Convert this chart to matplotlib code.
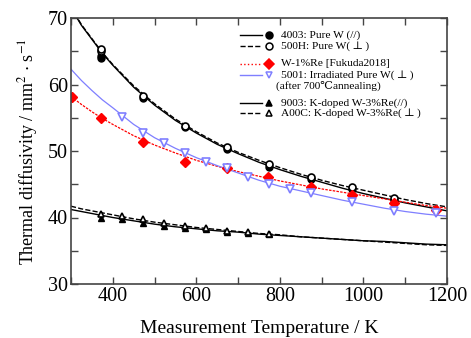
import numpy as np
import matplotlib.pyplot as plt
from matplotlib.ticker import MultipleLocator

plt.rcParams['font.family'] = ['Liberation Serif', 'DejaVu Serif']
plt.rcParams['mathtext.fontset'] = 'stix'

# measured points
T_w = [373, 373, 472, 573, 673, 774, 874, 973, 1073]
w_par = [64.0, 64.3, 58.0, 53.6, 50.3, 47.6, 45.8, 44.3, 42.6]
w_perp = [65.0, 65.4, 58.3, 53.8, 50.6, 48.0, 46.1, 44.6, 43.0]

T_re = [302, 372, 472, 573, 673, 772, 874, 973, 1073, 1173]
re1 = [58.1, 54.9, 51.3, 48.3, 47.4, 46.1, 44.6, 43.4, 42.2, 41.1]

T_irr = [423, 472, 523, 573, 623, 673, 724, 774, 824, 874, 973, 1073, 1173]
irr = [55.1, 52.7, 51.2, 49.7, 48.4, 47.4, 46.1, 45.0, 44.3, 43.7, 42.3, 41.0, 40.7]

T_k = [373, 423, 472, 523, 573, 623, 673, 724, 774]
k_par = [39.9, 39.8, 39.2, 38.7, 38.4, 38.3, 37.8, 37.7, 37.5]
k_perp = [40.6, 40.3, 39.7, 39.1, 38.7, 38.4, 38.0, 37.8, 37.5]

# fitted curves
T_fit = [300, 325, 350, 375, 400, 450, 500, 550, 600, 650, 700, 750, 800, 850,
         900, 950, 1000, 1050, 1100, 1150, 1200]
fit_w_par = [71.5, 68.9, 66.8, 64.7, 62.9, 59.6, 56.9, 54.6, 52.7, 51.0, 49.6,
             48.3, 47.2, 46.2, 45.3, 44.4, 43.6, 42.9, 42.2, 41.6, 41.0]
fit_w_perp = [71.6, 69.0, 66.9, 64.8, 63.0, 59.8, 57.1, 54.8, 52.9, 51.2, 49.8,
              48.6, 47.5, 46.5, 45.6, 44.8, 44.1, 43.4, 42.7, 42.1, 41.6]
fit_re = [58.2, 57.0, 55.9, 54.9, 54.0, 52.3, 50.9, 49.7, 48.6, 47.7, 46.9,
          46.2, 45.5, 44.9, 44.3, 43.8, 43.3, 42.8, 42.3, 41.8, 41.4]
fit_irr = [62.3, 60.6, 59.1, 57.7, 56.5, 54.0, 52.0, 50.4, 49.0, 47.8, 46.7,
           45.6, 44.7, 44.0, 43.3, 42.6, 42.0, 41.4, 40.9, 40.5, 40.2]
fit_k_par = [41.2, 40.9, 40.6, 40.3, 40.0, 39.5, 39.0, 38.6, 38.3, 38.0, 37.8,
             37.5, 37.3, 37.1, 36.9, 36.7, 36.5, 36.4, 36.2, 36.0, 35.9]
fit_k_perp = [41.7, 41.3, 41.0, 40.7, 40.4, 39.8, 39.3, 38.9, 38.5, 38.2, 37.9,
              37.6, 37.4, 37.1, 36.9, 36.7, 36.5, 36.3, 36.1, 35.9, 35.8]

red = '#ff0000'
blue = '#7f7fff'

fig = plt.figure(figsize=(4.71, 3.38), dpi=100)
ax = fig.add_axes([71/471, 1 - 284/338, 376/471, 266/338])

ax.plot(T_fit, fit_w_par, '-', color='k', lw=1.0)
ax.plot(T_fit, fit_w_perp, '--', color='k', lw=1.0)
ax.plot(T_fit, fit_re, '--', color=red, lw=0.9, dashes=(2, 1))
ax.plot(T_fit, fit_irr, '-', color=blue, lw=0.9)
ax.plot(T_fit, fit_k_par, '-', color='k', lw=1.0)
ax.plot(T_fit, fit_k_perp, '--', color='k', lw=1.0)

ms = 5
ax.plot(T_w, w_par, 'o', color='k', ms=ms)
ax.plot(T_w, w_perp, 'o', mfc='white', mec='k', mew=1.2, ms=ms)
ax.plot(T_re, re1, 'D', color=red, ms=ms)
ax.plot(T_irr, irr, 'v', mfc='white', mec=blue, mew=1.2, ms=ms + 1)
ax.plot(T_k, k_par, '^', color='k', ms=ms)
ax.plot(T_k, k_perp, '^', mfc='white', mec='k', mew=1.2, ms=ms)

ax.set_xlim(300, 1200)
ax.set_ylim(30, 70)
ax.xaxis.set_major_locator(MultipleLocator(200))
ax.xaxis.set_minor_locator(MultipleLocator(100))
ax.yaxis.set_major_locator(MultipleLocator(10))
ax.yaxis.set_minor_locator(MultipleLocator(5))
ax.tick_params(which='both', direction='in', top=True, right=True,
               length=5, width=1, color='#444444', labelsize=14.5, pad=2)
for s in ax.spines.values():
    s.set_color('#444444')
    s.set_linewidth(1.2)

ax.set_xlabel('Measurement Temperature / K', fontsize=14, labelpad=10)
ax.set_ylabel(r'Thermal diffusivity / mm$^2$ $\cdot$ s$^{-1}$', fontsize=13, labelpad=6)

# legend drawn by hand
def px(x, y):
    return (x - 71) / 376, (284 - y) / 266

rows = [
    (35, '-', 'k', 'o', 'k', 'k', '4003: Pure W (//)'),
    (46, '--', 'k', 'o', 'white', 'k', '500H: Pure W(\u2009\u22a5\u2009)'),
    (64, ':', red, 'D', red, red, 'W-1%Re [Fukuda2018]'),
    (75, '-', blue, 'v', 'white', blue, '5001: Irradiated Pure W(\u2009\u22a5\u2009)'),
    (103, '-', 'k', '^', 'k', 'k', '9003: K-doped W-3%Re(//)'),
    (113, '--', 'k', '^', 'white', 'k', 'A00C: K-doped W-3%Re(\u2009\u22a5\u2009)'),
]
for y, ls, lc, mk, fc, ec, lab in rows:
    x0, yy = px(240, y)
    x1, _ = px(262, y)
    xm, _ = px(269, y)
    xt, _ = px(281, y)
    ax.plot([x0, x1], [yy, yy], ls=ls, color=lc, lw=1.0, transform=ax.transAxes)
    ax.plot([xm], [yy], mk, mfc=fc, mec=ec, mew=1.1, ms=5, transform=ax.transAxes)
    ax.text(xt, yy, lab, fontsize=8.2, va='center', ha='left', transform=ax.transAxes)
xa, ya = px(276, 86)
ax.text(xa, ya, '(after 700\u2103annealing)', fontsize=8.2, va='center', ha='left',
        transform=ax.transAxes)

fig.savefig('out.png', dpi=100)
